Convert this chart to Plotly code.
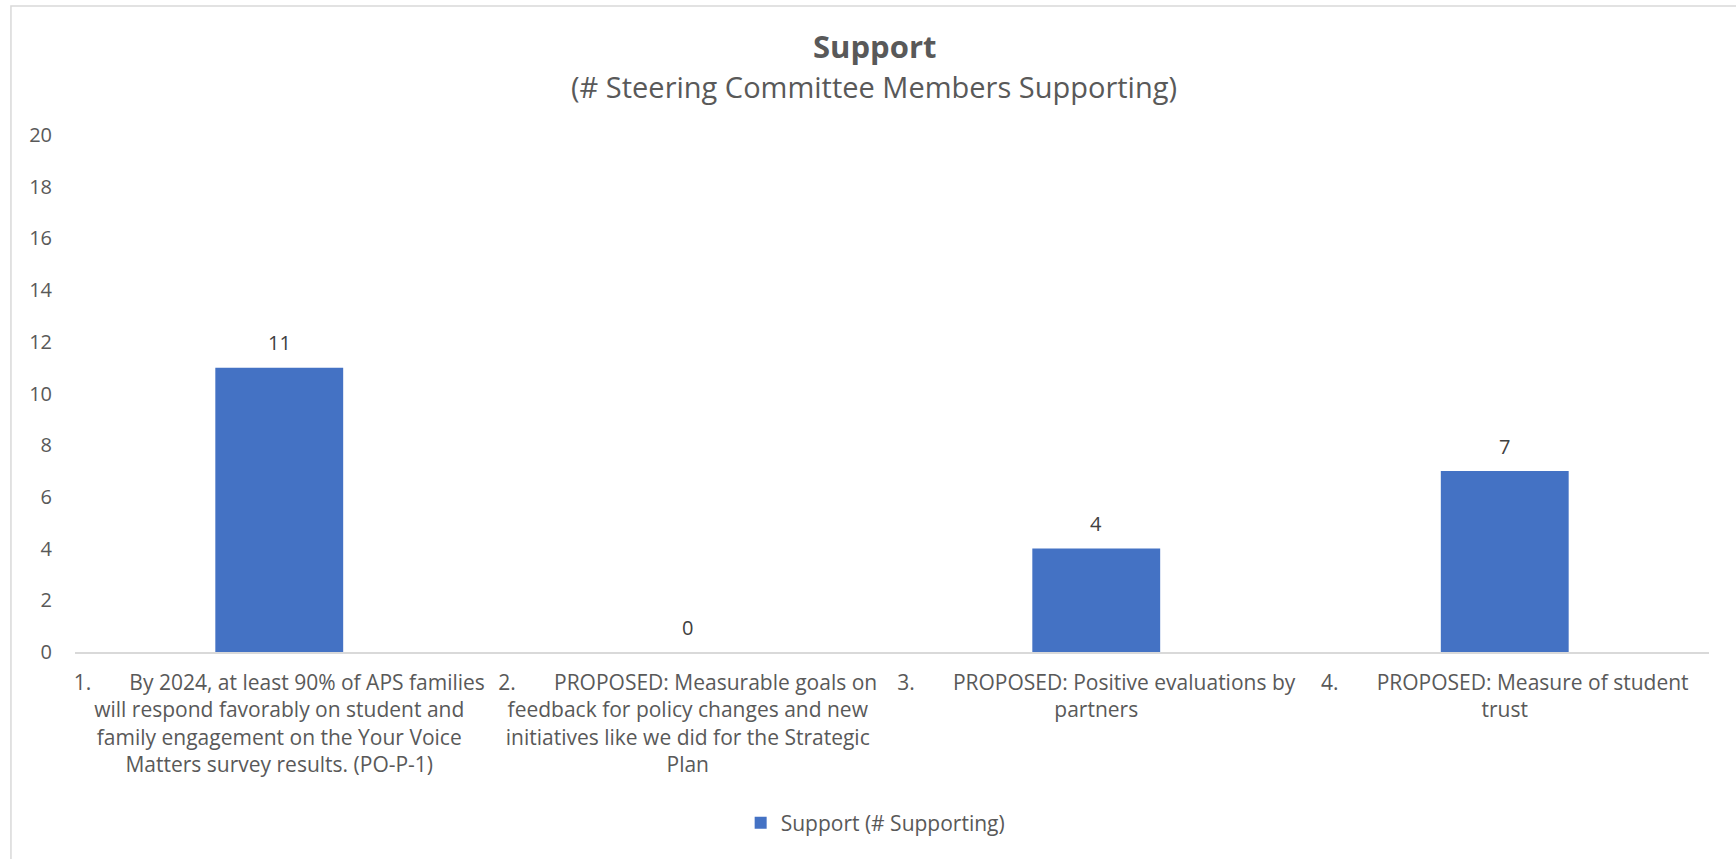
import plotly.graph_objects as go

NB = "\u00a0"

categories = ["Goal 1", "Goal 2", "Goal 3", "Goal 4"]
tick_labels = [
    "1." + NB * 7 + "By 2024, at least 90% of APS families<br>will respond favorably on student and<br>family engagement on the Your Voice<br>Matters survey results. (PO-P-1)",
    "2." + NB * 7 + "PROPOSED: Measurable goals on<br>feedback for policy changes and new<br>initiatives like we did for the Strategic<br>Plan",
    "3." + NB * 7 + "PROPOSED: Positive evaluations by<br>partners",
    "4." + NB * 7 + "PROPOSED: Measure of student<br>trust",
]
support = [11, 0, 4, 7]
series_name = "Support (# Supporting)"
title_text = "Support"
subtitle_text = "(# Steering Committee Members Supporting)"
y_ticks = [0, 2, 4, 6, 8, 10, 12, 14, 16, 18, 20]

BAR = "#4472C4"
TXT = "#595959"
FONT = "Open Sans, Noto Sans, sans-serif"

fig = go.Figure()
fig.add_trace(go.Bar(
    x=categories, y=support, name=series_name,
    marker=dict(color=BAR, line=dict(width=0)),
    showlegend=True,
))

# data labels
for c, v in zip(categories, support):
    fig.add_annotation(x=c, y=v, xref="x", yref="y", text=str(v),
                       showarrow=False, yanchor="middle", yshift=25,
                       font=dict(family=FONT, size=20, color="#404040"))

# title & subtitle
fig.add_annotation(x=0.489, y=1.172, xref="paper", yref="paper", text="<b>" + title_text + "</b>",
                   showarrow=False, xanchor="center", yanchor="middle",
                   font=dict(family=FONT, size=31, color=TXT))
fig.add_annotation(x=0.489, y=1.093, xref="paper", yref="paper", text=subtitle_text,
                   showarrow=False, xanchor="center", yanchor="middle",
                   font=dict(family=FONT, size=29, color=TXT))

# outer chart border
fig.add_shape(type="rect", xref="paper", yref="paper",
              x0=-0.0392, x1=1.03, y0=-0.45, y1=1.2495,
              line=dict(color="#D9D9D9", width=1.5), fillcolor="rgba(0,0,0,0)", layer="below")

fig.update_layout(
    width=1736, height=859,
    margin=dict(l=75, r=27, t=135, b=207, autoexpand=False),
    paper_bgcolor="white", plot_bgcolor="white",
    bargap=0.687,
    font=dict(family=FONT, size=20, color=TXT),
    legend=dict(orientation="h", x=0.49, xanchor="center", y=-0.331, yanchor="middle",
                font=dict(family=FONT, size=21, color=TXT), itemwidth=30,
                bgcolor="rgba(0,0,0,0)"),
    xaxis=dict(
        tickmode="array", tickvals=categories, ticktext=tick_labels,
        showline=True, linecolor="#D9D9D9", linewidth=1.5,
        showgrid=False, zeroline=False, ticks="", tickangle=0,
        ticklabelstandoff=11,
        tickfont=dict(family=FONT, size=21, color=TXT),
    ),
    yaxis=dict(
        range=[0, 20], tickmode="array", tickvals=y_ticks,
        showgrid=False, zeroline=False, showline=False, ticks="",
        ticklabelstandoff=22,
        tickfont=dict(family=FONT, size=20, color=TXT),
    ),
)

fig.write_html("out.html", config={"displayModeBar": False},
               post_script="document.body.style.margin='0';")
